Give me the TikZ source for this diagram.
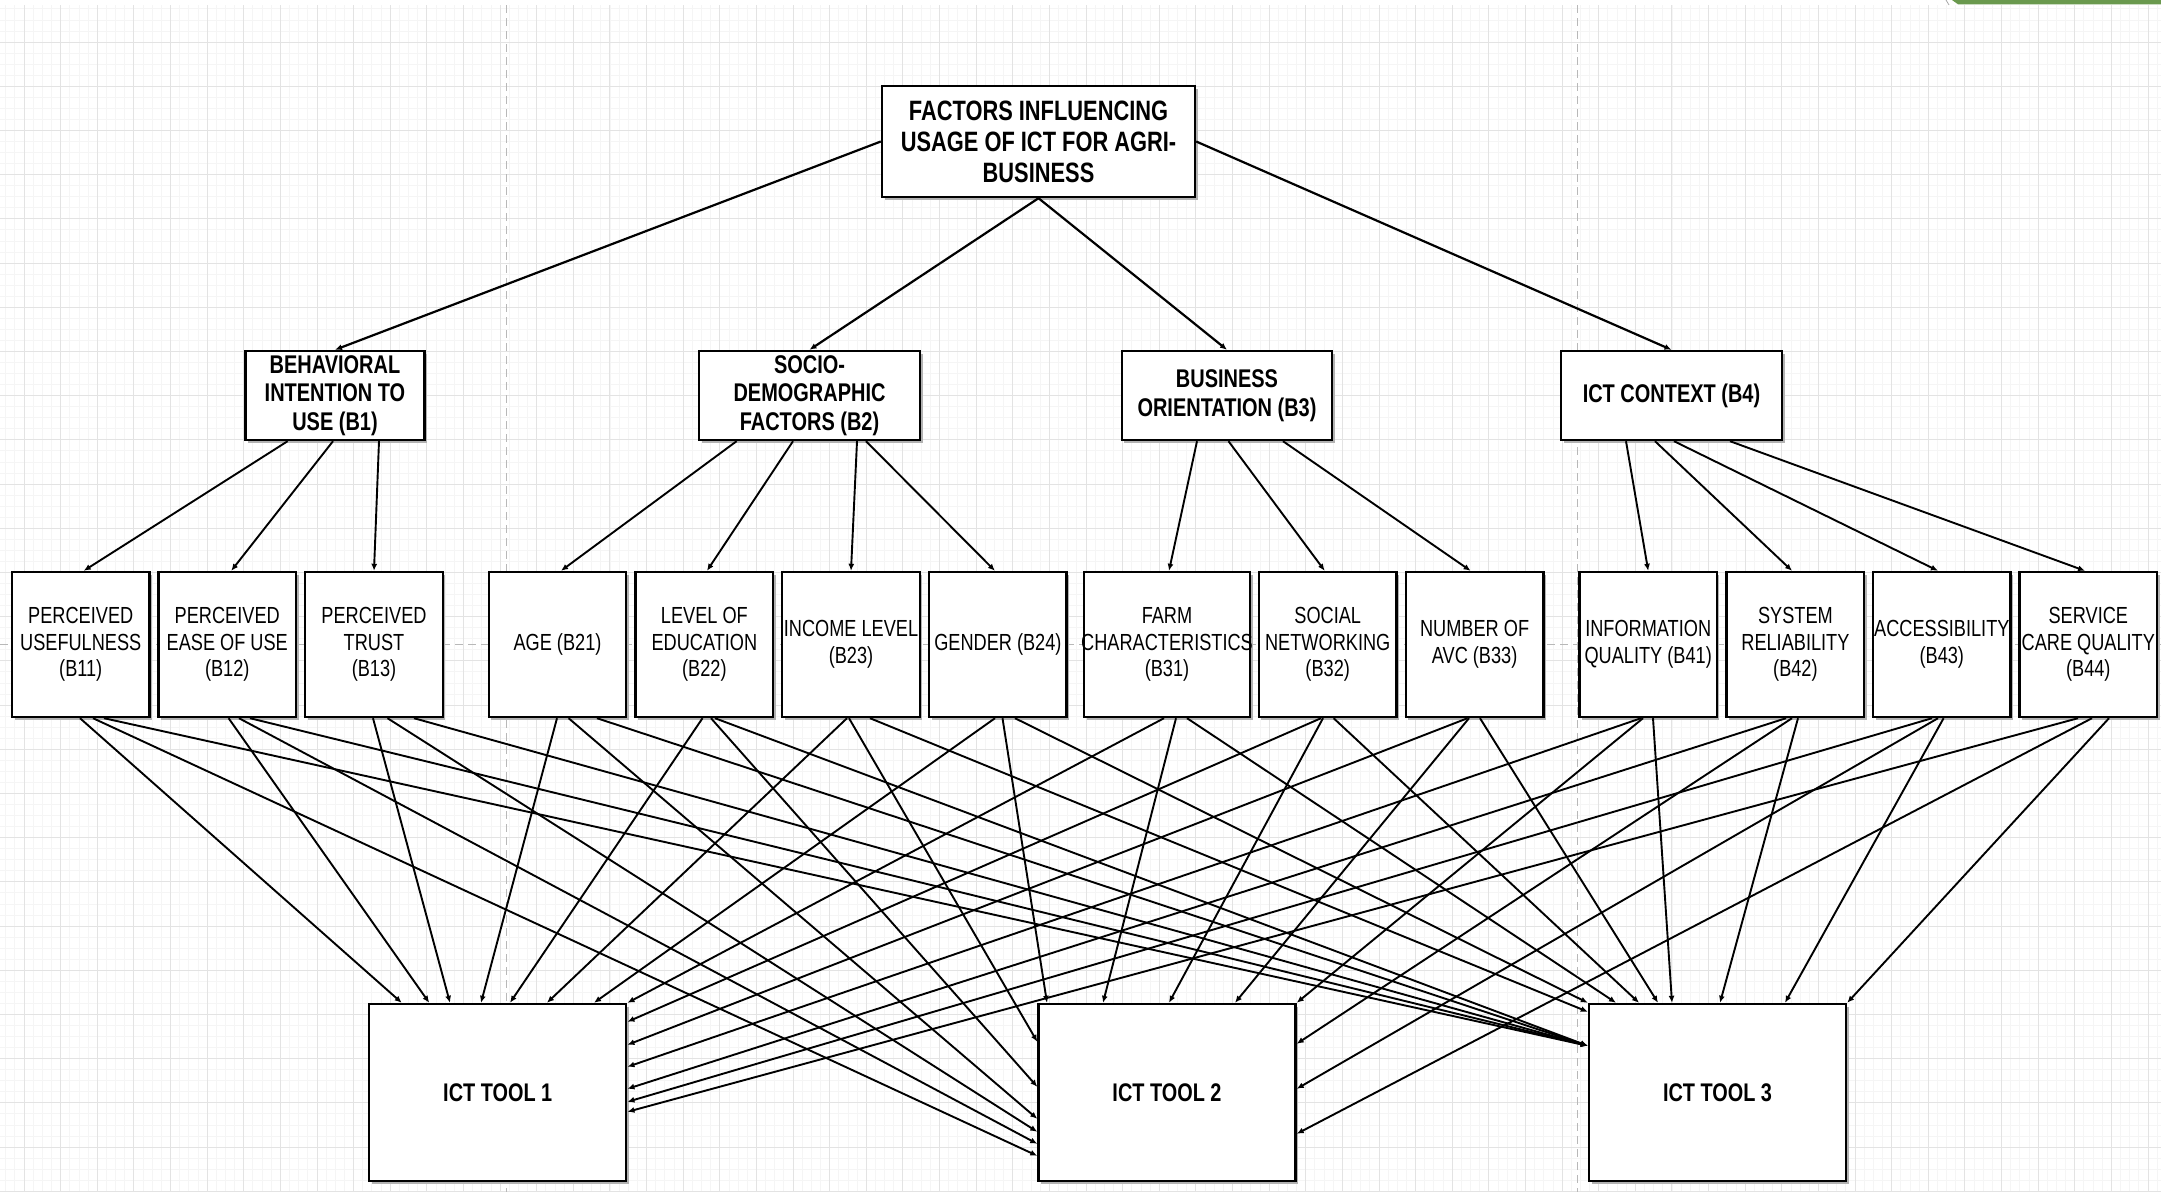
\documentclass[tikz,border=0pt]{standalone}
\usepackage{fontspec}
\setmainfont[FakeStretch=0.78]{Liberation Sans}
\usetikzlibrary{arrows.meta,calc}
\newcommand\cl[1]{\makebox[0pt][c]{#1}}
\definecolor{barGreen}{RGB}{106,153,78}
\begin{document}
\begin{tikzpicture}[x=1pt,y=-1pt,
  gridminor/.style={draw=black!4,line width=0.8pt},
  gridmajor/.style={draw=black!11,line width=0.9pt},
  pagebreak/.style={draw=black!28,line width=1pt,dash pattern=on 8pt off 5pt},
  box/.style={draw=black,line width=2.4pt,fill=white,inner sep=0pt,align=center,
    preaction={fill=black!30,transform canvas={xshift=2.5pt,yshift=-2.5pt}}},
  topbox/.style={box,minimum width=313pt,minimum height=111pt,font=\bfseries\fontsize{28}{31}\selectfont},
  grpbox/.style={box,minimum height=89pt,font=\bfseries\fontsize{25.6}{28.7}\selectfont},
  leafbox/.style={box,minimum width=137.5pt,minimum height=145pt,font=\fontsize{23.3}{26.5}\selectfont},
  toolbox/.style={box,minimum width=257pt,minimum height=177pt,font=\bfseries\fontsize{25.5}{30}\selectfont},
  conn/.style={draw=black,line width=1.9pt,-{Latex[length=7pt,width=6pt]}},
  upconn/.style={conn,line width=2.2pt},
]
\useasboundingbox (0,0) rectangle (2161,1192);
\clip (0,0) rectangle (2161,1192);
\fill[white] (0,0) rectangle (2161,1192);
% grid
\foreach \k in {-3,...,233} \draw[gridminor] ({24+9.155*\k},5) -- ({24+9.155*\k},1192);
\foreach \k in {-3,...,104} \draw[gridminor] (0,{42+11.05*\k}) -- (2161,{42+11.05*\k});
\foreach \m in {0,...,58} \draw[gridmajor] ({24+36.62*\m},5) -- ({24+36.62*\m},1192);
\foreach \m in {0,...,26} \draw[gridmajor] (0,{42+44.2*\m}) -- (2161,{42+44.2*\m});
\draw[pagebreak] (506.5,5) -- (506.5,1192);
\draw[pagebreak] (1577.7,5) -- (1577.7,1192);
\draw[pagebreak] (0,644) -- (2161,644);
\fill[barGreen] (1952,0) -- (2161,0) -- (2161,4.3) -- (1958,4.3) -- cycle;
\draw[black!35,line width=0.8pt] (1946,0) -- (1949,5);

% nodes
\node[topbox] (T) at (1038.5,141.5) {\cl{FACTORS INFLUENCING}\\\cl{USAGE OF ICT FOR AGRI-}\\\cl{BUSINESS}};

\node[grpbox,minimum width=179pt] (B1) at (335,395.5) {\cl{BEHAVIORAL}\\\cl{INTENTION TO}\\\cl{USE (B1)}};
\node[grpbox,minimum width=221pt] (B2) at (809.5,395.5) {\cl{SOCIO-}\\\cl{DEMOGRAPHIC}\\\cl{FACTORS (B2)}};
\node[grpbox,minimum width=210.5pt] (B3) at (1227,395.5) {\cl{BUSINESS}\\\cl{ORIENTATION (B3)}};
\node[grpbox,minimum width=221pt] (B4) at (1671.5,395.5) {\cl{ICT CONTEXT (B4)}};

\node[leafbox] (B11) at (80.75,644.5) {\cl{PERCEIVED}\\\cl{USEFULNESS}\\\cl{(B11)}};
\node[leafbox] (B12) at (227.25,644.5) {\cl{PERCEIVED}\\\cl{EASE OF USE}\\\cl{(B12)}};
\node[leafbox] (B13) at (374,644.5) {\cl{PERCEIVED}\\\cl{TRUST}\\\cl{(B13)}};
\node[leafbox] (B21) at (557.5,644.5) {\cl{AGE (B21)}};
\node[leafbox] (B22) at (704.4,644.5) {\cl{LEVEL OF}\\\cl{EDUCATION}\\\cl{(B22)}};
\node[leafbox] (B23) at (851,644.5) {\cl{INCOME LEVEL}\\\cl{(B23)}};
\node[leafbox] (B24) at (997.9,644.5) {\cl{GENDER (B24)}};
\node[leafbox,minimum width=166pt] (B31) at (1167,644.5) {\cl{FARM}\\\cl{CHARACTERISTICS}\\\cl{(B31)}};
\node[leafbox] (B32) at (1327.7,644.5) {\cl{SOCIAL}\\\cl{NETWORKING}\\\cl{(B32)}};
\node[leafbox] (B33) at (1474.6,644.5) {\cl{NUMBER OF}\\\cl{AVC (B33)}};
\node[leafbox] (B41) at (1648.2,644.5) {\cl{INFORMATION}\\\cl{QUALITY (B41)}};
\node[leafbox] (B42) at (1795.4,644.5) {\cl{SYSTEM}\\\cl{RELIABILITY}\\\cl{(B42)}};
\node[leafbox] (B43) at (1941.8,644.5) {\cl{ACCESSIBILITY}\\\cl{(B43)}};
\node[leafbox] (B44) at (2088.3,644.5) {\cl{SERVICE}\\\cl{CARE QUALITY}\\\cl{(B44)}};

\node[toolbox] (T1) at (497.75,1092.5) {\cl{ICT TOOL 1}};
\node[toolbox] (T2) at (1167,1092.5) {\cl{ICT TOOL 2}};
\node[toolbox] (T3) at (1717.5,1092.5) {\cl{ICT TOOL 3}};

% top level
\draw[upconn] (T.west) -- (B1.north);
\draw[upconn] (T.south) -- (B2.north);
\draw[upconn] (T.south) -- (B3.north);
\draw[upconn] (T.east) -- (B4.north);

% group to leaf
\draw[conn] ([xshift=-47.4pt]B1.south) -- ([xshift=3pt]B11.north);
\draw[conn] ([xshift=-2pt]B1.south) -- ([xshift=4pt]B12.north);
\draw[conn] ([xshift=44pt]B1.south) -- (B13.north);
\draw[conn] ([xshift=-72.9pt]B2.south) -- ([xshift=3.5pt]B21.north);
\draw[conn] ([xshift=-16.5pt]B2.south) -- ([xshift=2.6pt]B22.north);
\draw[conn] ([xshift=47.5pt]B2.south) -- (B23.north);
\draw[conn] ([xshift=56.5pt]B2.south) -- ([xshift=-3pt]B24.north);
\draw[conn] ([xshift=-30pt]B3.south) -- ([xshift=2pt]B31.north);
\draw[conn] ([xshift=1.5pt]B3.south) -- ([xshift=-3pt]B32.north);
\draw[conn] ([xshift=56pt]B3.south) -- ([xshift=-4pt]B33.north);
\draw[conn] ([xshift=-45.5pt]B4.south) -- (B41.north);
\draw[conn] ([xshift=-16.5pt]B4.south) -- ([xshift=-3.4pt]B42.north);
\draw[conn] ([xshift=2.5pt]B4.south) -- ([xshift=-3.8pt]B43.north);
\draw[conn] ([xshift=58.5pt]B4.south) -- ([xshift=-3.3pt]B44.north);

% leaves to ICT TOOL 1
\draw[conn] ([xshift=-0.75pt]B11.south) -- ([xshift=-96pt]T1.north);
\draw[conn] ([xshift=1.35pt]B12.south) -- ([xshift=-68.5pt]T1.north);
\draw[conn] ([xshift=-1pt]B13.south) -- ([xshift=-47.75pt]T1.north);
\draw[conn] ([xshift=-0.5pt]B21.south) -- ([xshift=-16.75pt]T1.north);
\draw[conn] ([xshift=-1.9pt]B22.south) -- ([xshift=12.25pt]T1.north);
\draw[conn] ([xshift=-4pt]B23.south) -- ([xshift=49.25pt]T1.north);
\draw[conn] ([xshift=-2.9pt]B24.south) -- ([xshift=96.25pt]T1.north);
\draw[conn] ([xshift=-3pt]B31.south) -- (T1.north east);
\draw[conn] ([xshift=-6.7pt]B32.south) -- ([yshift=-19pt]T1.north east);
\draw[conn] ([xshift=-7.1pt]B33.south) -- ([yshift=-42pt]T1.north east);
\draw[conn] ([xshift=-7.2pt]B41.south) -- ([yshift=-64pt]T1.north east);
\draw[conn] ([xshift=-9.4pt]B42.south) -- ([yshift=-86pt]T1.north east);
\draw[conn] ([xshift=-9.8pt]B43.south) -- ([yshift=-99pt]T1.north east);
\draw[conn] ([xshift=-10.3pt]B44.south) -- ([yshift=-109pt]T1.north east);

% leaves to ICT TOOL 2
\draw[conn] ([xshift=12.25pt]B11.south) -- ([yshift=-153pt]T2.north west);
\draw[conn] ([xshift=11.75pt]B12.south) -- ([yshift=-141pt]T2.north west);
\draw[conn] ([xshift=13.5pt]B13.south) -- ([yshift=-129pt]T2.north west);
\draw[conn] ([xshift=11.1pt]B21.south) -- ([yshift=-116pt]T2.north west);
\draw[conn] ([xshift=6.6pt]B22.south) -- ([yshift=-84pt]T2.north west);
\draw[conn] ([xshift=-2pt]B23.south) -- ([yshift=-39pt]T2.north west);
\draw[conn] ([xshift=4.6pt]B24.south) -- ([xshift=-120pt]T2.north);
\draw[conn] ([xshift=9pt]B31.south) -- ([xshift=-64pt]T2.north);
\draw[conn] ([xshift=-4.7pt]B32.south) -- ([xshift=2pt]T2.north);
\draw[conn] ([xshift=-5.6pt]B33.south) -- ([xshift=68pt]T2.north);
\draw[conn] ([xshift=-5.2pt]B41.south) -- (T2.north east);
\draw[conn] ([xshift=-3.4pt]B42.south) -- ([yshift=-41pt]T2.north east);
\draw[conn] ([xshift=-3.8pt]B43.south) -- ([yshift=-86pt]T2.north east);
\draw[conn] ([xshift=3.7pt]B44.south) -- ([yshift=-131pt]T2.north east);

% leaves to ICT TOOL 3
\draw[conn] ([xshift=23.25pt]B11.south) -- ([yshift=-43pt]T3.north west);
\draw[conn] ([xshift=22.75pt]B12.south) -- ([yshift=-43pt]T3.north west);
\draw[conn] ([xshift=40pt]B13.south) -- ([yshift=-43pt]T3.north west);
\draw[conn] ([xshift=39.5pt]B21.south) -- ([yshift=-43pt]T3.north west);
\draw[conn] ([xshift=10.6pt]B22.south) -- ([yshift=-43pt]T3.north west);
\draw[conn] ([xshift=19pt]B23.south) -- ([yshift=-9pt]T3.north west);
\draw[conn] ([xshift=17.1pt]B24.south) -- (T3.north west);
\draw[conn] ([xshift=20pt]B31.south) -- ([xshift=-101.5pt]T3.north);
\draw[conn] ([xshift=5.9pt]B32.south) -- ([xshift=-78.5pt]T3.north);
\draw[conn] ([xshift=5.4pt]B33.south) -- ([xshift=-59.5pt]T3.north);
\draw[conn] ([xshift=4.8pt]B41.south) -- ([xshift=-45.5pt]T3.north);
\draw[conn] ([xshift=2.6pt]B42.south) -- ([xshift=2.5pt]T3.north);
\draw[conn] ([xshift=1.8pt]B43.south) -- ([xshift=67.5pt]T3.north);
\draw[conn] ([xshift=20.7pt]B44.south) -- (T3.north east);
\end{tikzpicture}
\end{document}
